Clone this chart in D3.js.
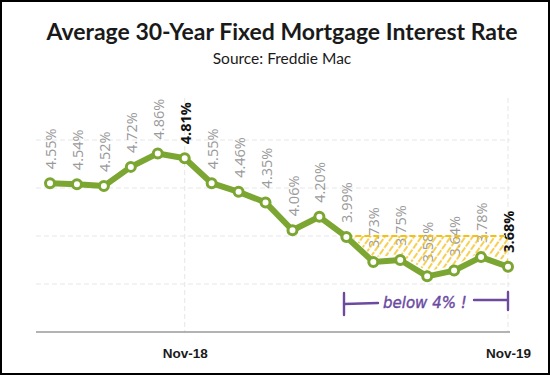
<!DOCTYPE html>
<html>
<head>
<meta charset="utf-8">
<script src="https://cdn.jsdelivr.net/npm/d3@7"></script>
<style>
  body { margin: 0; background: #fff; }
  svg { display: block; }
</style>
</head>
<body>
<script>
// monthly averages, Jun-18 .. Nov-19
const months = ["Jun-18","Jul-18","Aug-18","Sep-18","Oct-18","Nov-18","Dec-18","Jan-19","Feb-19",
                "Mar-19","Apr-19","May-19","Jun-19","Jul-19","Aug-19","Sep-19","Oct-19","Nov-19"];
const rates = [4.55,4.54,4.52,4.72,4.86,4.81,4.55,4.46,4.35,4.06,4.20,3.99,3.73,3.75,3.58,3.64,3.78,3.68];
const tickMonths = ["Nov-18","Nov-19"];
const boldMonths = ["Nov-18","Nov-19"];
const gridValues = [3.5, 4.0, 4.5, 5.0];
const threshold = 4.0;
const belowStart = "May-19";

const width = 550, height = 375;
const green = "#7ba632", yellow = "#f3c018", purple = "#6c4a9f";

const data = months.map((m, i) => ({month: m, rate: rates[i]}));

const svg = d3.select("body").append("svg")
    .attr("width", width)
    .attr("height", height);

// hatch pattern
const defs = svg.append("defs");
defs.append("pattern")
    .attr("id", "hatch")
    .attr("patternUnits", "userSpaceOnUse")
    .attr("width", 6).attr("height", 8)
    .attr("patternTransform", "rotate(35)")
  .append("line")
    .attr("x1", 1).attr("y1", 0).attr("x2", 1).attr("y2", 6)
    .attr("stroke", yellow).attr("stroke-width", 1.5)
    .attr("stroke-linecap", "round");

const x = d3.scalePoint().domain(months).range([50, 508]);
const y = d3.scaleLinear().domain([3.0, 5.5]).range([332, 92]);

// title
svg.append("text")
    .attr("x", 282).attr("y", 40)
    .attr("text-anchor", "middle")
    .style("font-family", "Lato, 'Open Sans', sans-serif")
    .style("font-weight", "bold")
    .style("font-size", "23px")
    .attr("fill", "#1a1a1a")
    .text("Average 30-Year Fixed Mortgage Interest Rate");

svg.append("text")
    .attr("x", 282).attr("y", 64)
    .attr("text-anchor", "middle")
    .style("font-family", "Lato, 'Open Sans', sans-serif")
    .style("font-size", "15.5px")
    .attr("fill", "#1a1a1a")
    .text("Source: Freddie Mac");

// gridlines
svg.append("g").selectAll("line")
  .data(gridValues)
  .join("line")
    .attr("x1", 36).attr("x2", 510)
    .attr("y1", d => y(d)).attr("y2", d => y(d))
    .attr("stroke", "#e6e6e6")
    .attr("stroke-dasharray", "5,3");

svg.append("g").selectAll("line")
  .data(tickMonths)
  .join("line")
    .attr("x1", d => x(d)).attr("x2", d => x(d))
    .attr("y1", 98).attr("y2", y(3.0))
    .attr("stroke", "#e6e6e6")
    .attr("stroke-dasharray", "5,3");

// x axis
const xAxis = d3.axisBottom(x).tickValues(tickMonths).tickSize(0).tickPadding(16);
const gx = svg.append("g").attr("transform", `translate(0,${y(3.0)})`).call(xAxis);
gx.select(".domain").attr("d", "M36,0H510").attr("stroke", "#9a9a9a").attr("stroke-width", 1.5);
gx.selectAll("text")
    .style("font-family", "'Liberation Sans', Arial, sans-serif")
    .style("font-weight", "bold")
    .style("font-size", "13.5px")
    .attr("fill", "#1a1a1a");

// value labels
svg.append("g").selectAll("text")
  .data(data)
  .join("text")
    .attr("transform", d => `translate(${x(d.month) + 1},${y(d.rate) - 14}) rotate(-90)`)
    .attr("dy", "0.35em")
    .style("font-family", "'Open Sans', sans-serif")
    .style("font-size", "14.5px")
    .style("font-weight", d => boldMonths.includes(d.month) ? "bold" : "normal")
    .attr("fill", d => boldMonths.includes(d.month) ? "#111" : "#9a9a9a")
    .text(d => d.rate.toFixed(2) + "%");

// below-4% hatched region
const below = data.slice(months.indexOf(belowStart));
svg.append("path")
    .datum(below)
    .attr("fill", "url(#hatch)")
    .attr("d", d3.area()
      .x(d => x(d.month))
      .y0(y(threshold))
      .y1(d => y(d.rate) - 5));

svg.append("line")
    .attr("x1", x(belowStart)).attr("x2", x(months[months.length - 1]) - 3)
    .attr("y1", y(threshold)).attr("y2", y(threshold))
    .attr("stroke", yellow)
    .attr("stroke-width", 2)
    .attr("stroke-dasharray", "6,3");

// main line
svg.append("path")
    .datum(data)
    .attr("fill", "none")
    .attr("stroke", green)
    .attr("stroke-width", 6)
    .attr("stroke-linejoin", "round")
    .attr("d", d3.line().x(d => x(d.month)).y(d => y(d.rate)));

svg.append("g").selectAll("circle")
  .data(data)
  .join("circle")
    .attr("cx", d => x(d.month))
    .attr("cy", d => y(d.rate))
    .attr("r", 4.5)
    .attr("fill", "#fff")
    .attr("stroke", green)
    .attr("stroke-width", 3);

// hand-drawn note
const note = svg.append("g")
    .attr("stroke", purple)
    .attr("stroke-width", 2.4)
    .attr("stroke-linecap", "round")
    .attr("fill", "none");
note.append("path").attr("d", "M344,293L344,315");
note.append("path").attr("d", "M344,304L378,303");
note.append("path").attr("d", "M474,300L507,300");
note.append("path").attr("d", "M508,292L508,310");

svg.append("text")
    .attr("x", 383).attr("y", 308)
    .style("font-family", "'DejaVu Sans', sans-serif")
    .style("font-style", "italic")
    .style("font-size", "15px")
    .attr("fill", purple)
    .attr("stroke", purple)
    .attr("stroke-width", 0.4)
    .text("below 4% !");

// frame
svg.append("rect")
    .attr("x", 1).attr("y", 1)
    .attr("width", width - 2).attr("height", height - 2)
    .attr("fill", "none")
    .attr("stroke", "#000")
    .attr("stroke-width", 2);
</script>
</body>
</html>
